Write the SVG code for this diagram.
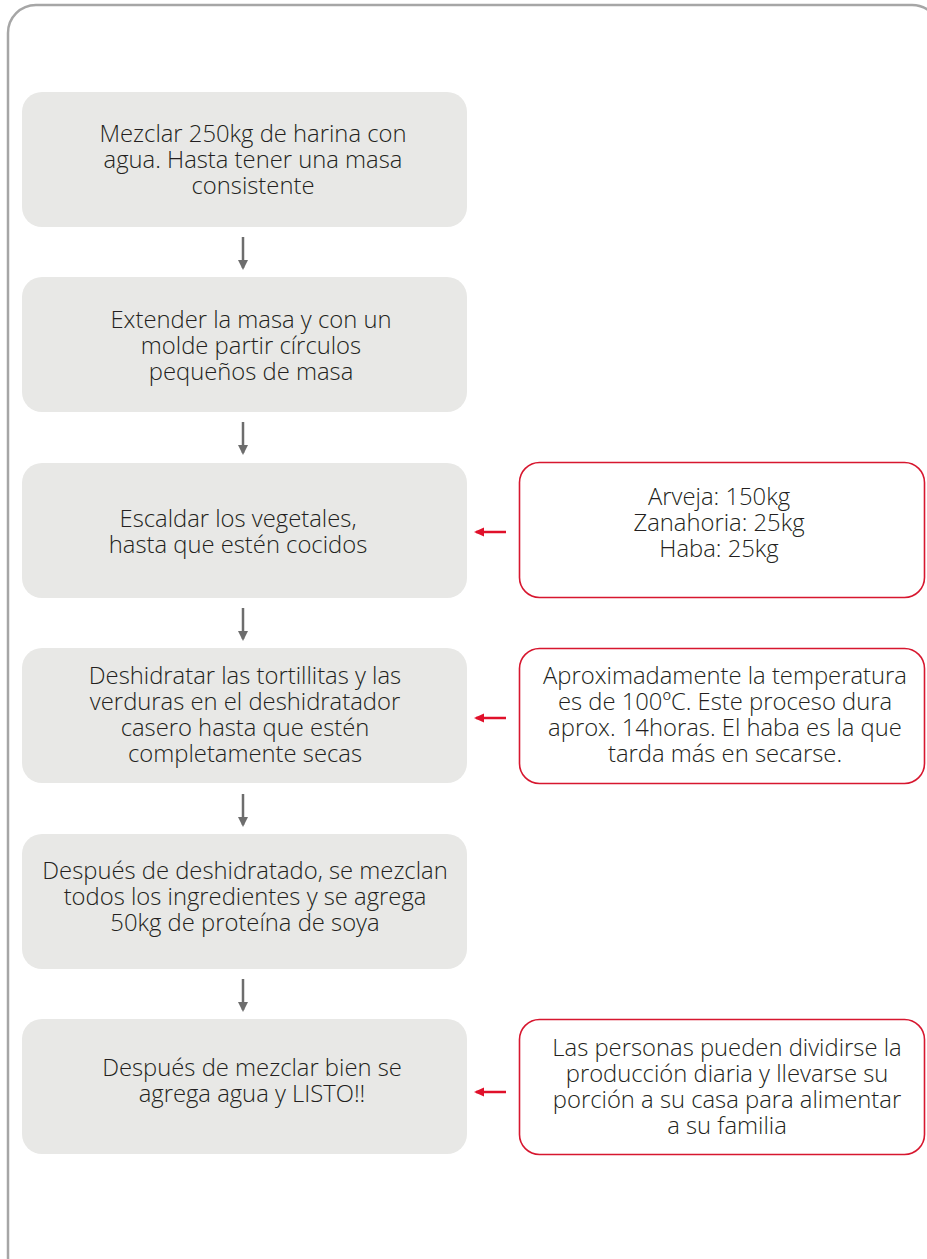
<svg xmlns="http://www.w3.org/2000/svg" width="927" height="1259" viewBox="0 0 927 1259">
<defs>
<style>
.frame{fill:#fff;stroke:#a6a6a6;stroke-width:2.5}
.step{fill:#e8e8e6}
.note{fill:#fff;stroke:#d7172f;stroke-width:1.6}
text{font-family:"Open Sans","Liberation Sans",sans-serif;font-weight:300;font-size:23.8px;fill:#231f20;text-anchor:middle}
.ga{stroke:#6d6d6d;stroke-width:2.5;fill:none}
.ra{stroke:#e0102a;stroke-width:2.5;fill:none}
</style>
<marker id="hg" markerWidth="10" markerHeight="10" refX="8" refY="5" orient="auto" markerUnits="userSpaceOnUse"><path d="M0,0 L10,5 L0,10 z" fill="#6d6d6d"/></marker>
<marker id="hr" markerWidth="10" markerHeight="10" refX="8" refY="5" orient="auto" markerUnits="userSpaceOnUse"><path d="M0,0.5 L10,5 L0,9.5 z" fill="#e0102a"/></marker>
</defs>
<rect class="frame" x="8" y="5" width="932" height="1280" rx="28"/>
<g id="connectors">
<line class="ga" x1="243" y1="237" x2="243" y2="268" marker-end="url(#hg)"/>
<line class="ga" x1="243" y1="422" x2="243" y2="453" marker-end="url(#hg)"/>
<line class="ga" x1="243" y1="608" x2="243" y2="639" marker-end="url(#hg)"/>
<line class="ga" x1="243" y1="794" x2="243" y2="825" marker-end="url(#hg)"/>
<line class="ga" x1="243" y1="979" x2="243" y2="1010" marker-end="url(#hg)"/>
<line class="ra" x1="506" y1="532" x2="476" y2="532" marker-end="url(#hr)"/>
<line class="ra" x1="506" y1="718" x2="476" y2="718" marker-end="url(#hr)"/>
<line class="ra" x1="506" y1="1092" x2="476" y2="1092" marker-end="url(#hr)"/>
</g>
<g id="step1"><rect class="step" x="22" y="92" width="445" height="135" rx="20"/>
<text x="253" y="142">Mezclar 250kg de harina con</text><text x="253" y="168">agua. Hasta tener una masa</text><text x="253" y="194">consistente</text></g>
<g id="step2"><rect class="step" x="22" y="277" width="445" height="135" rx="20"/>
<text x="251" y="328">Extender la masa y con un</text><text x="251" y="354">molde partir círculos</text><text x="251" y="380">pequeños de masa</text></g>
<g id="step3"><rect class="step" x="22" y="463" width="445" height="135" rx="20"/>
<text x="238" y="527">Escaldar los vegetales,</text><text x="238" y="553">hasta que estén cocidos</text></g>
<g id="step4"><rect class="step" x="22" y="648" width="445" height="135" rx="20"/>
<text x="245" y="684">Deshidratar las tortillitas y las</text><text x="245" y="710">verduras en el deshidratador</text><text x="245" y="736">casero hasta que estén</text><text x="245" y="762">completamente secas</text></g>
<g id="step5"><rect class="step" x="22" y="834" width="445" height="135" rx="20"/>
<text x="245" y="879">Después de deshidratado, se mezclan</text><text x="245" y="905">todos los ingredientes y se agrega</text><text x="245" y="931">50kg de proteína de soya</text></g>
<g id="step6"><rect class="step" x="22" y="1019" width="445" height="135" rx="20"/>
<text x="252" y="1076">Después de mezclar bien se</text><text x="252" y="1102">agrega agua y LISTO!!</text></g>
<g id="note1"><rect class="note" x="519.5" y="462.5" width="405" height="135" rx="20"/>
<text x="719" y="505">Arveja: 150kg</text><text x="719" y="531">Zanahoria: 25kg</text><text x="719" y="557">Haba: 25kg</text></g>
<g id="note2"><rect class="note" x="519.5" y="648.5" width="405" height="135" rx="20"/>
<text x="725" y="684">Aproximadamente la temperatura</text><text x="725" y="710">es de 100ºC. Este proceso dura</text><text x="725" y="736">aprox. 14horas. El haba es la que</text><text x="725" y="762">tarda más en secarse.</text></g>
<g id="note3"><rect class="note" x="519.5" y="1019.5" width="405" height="135" rx="20"/>
<text x="727" y="1056">Las personas pueden dividirse la</text><text x="727" y="1082">producción diaria y llevarse su</text><text x="727" y="1108">porción a su casa para alimentar</text><text x="727" y="1134">a su familia</text></g>
</svg>
